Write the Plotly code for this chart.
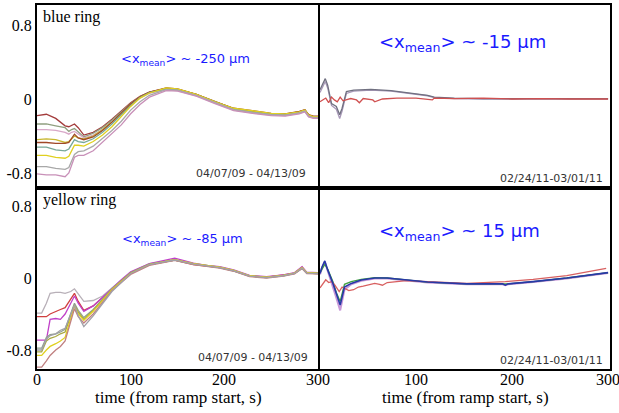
import plotly.graph_objects as go

W, H = 619, 413

# ---------------- data ----------------
# Top-left: blue ring 2009
t_tl = [0, 10, 20, 30, 34, 37, 40, 44, 50, 60, 70, 80, 90, 100, 110, 120, 138, 150, 170, 190, 210, 230, 250, 265, 280, 286, 290, 295, 300]
tl_series = {
    "c1": [-0.18, -0.165, -0.21, -0.29, -0.30, -0.285, -0.27, -0.31, -0.39, -0.36, -0.30, -0.22, -0.13, -0.04, 0.03, 0.075, 0.115, 0.105, 0.05, -0.03, -0.105, -0.135, -0.16, -0.165, -0.14, -0.12, -0.175, -0.19, -0.19],
    "c2": [-0.27, -0.27, -0.29, -0.31, -0.35, -0.33, -0.32, -0.36, -0.41, -0.37, -0.31, -0.23, -0.14, -0.05, 0.025, 0.07, 0.11, 0.10, 0.045, -0.035, -0.11, -0.14, -0.165, -0.17, -0.145, -0.125, -0.18, -0.195, -0.195],
    "c3": [-0.33, -0.33, -0.34, -0.36, -0.38, -0.36, -0.35, -0.38, -0.42, -0.39, -0.33, -0.25, -0.16, -0.07, 0.01, 0.06, 0.10, 0.09, 0.035, -0.045, -0.12, -0.15, -0.175, -0.18, -0.155, -0.135, -0.19, -0.205, -0.205],
    "c4": [-0.44, -0.43, -0.44, -0.47, -0.46, -0.43, -0.40, -0.42, -0.43, -0.40, -0.33, -0.25, -0.15, -0.06, 0.02, 0.07, 0.115, 0.105, 0.05, -0.03, -0.105, -0.135, -0.16, -0.165, -0.14, -0.12, -0.175, -0.19, -0.19],
    "c5": [-0.47, -0.47, -0.48, -0.48, -0.47, -0.42, -0.38, -0.42, -0.44, -0.41, -0.34, -0.25, -0.15, -0.055, 0.025, 0.075, 0.12, 0.11, 0.05, -0.03, -0.10, -0.13, -0.155, -0.16, -0.135, -0.115, -0.17, -0.185, -0.185],
    "c6": [-0.52, -0.52, -0.55, -0.56, -0.54, -0.49, -0.44, -0.46, -0.47, -0.43, -0.36, -0.27, -0.17, -0.07, 0.015, 0.07, 0.11, 0.10, 0.045, -0.035, -0.11, -0.14, -0.165, -0.17, -0.145, -0.125, -0.18, -0.195, -0.195],
    "c7": [-0.61, -0.61, -0.63, -0.64, -0.62, -0.56, -0.50, -0.50, -0.51, -0.46, -0.39, -0.30, -0.19, -0.08, 0.01, 0.065, 0.12, 0.11, 0.05, -0.03, -0.10, -0.13, -0.155, -0.16, -0.14, -0.12, -0.175, -0.19, -0.19],
    "c8": [-0.73, -0.73, -0.75, -0.76, -0.74, -0.67, -0.60, -0.57, -0.56, -0.51, -0.43, -0.34, -0.24, -0.12, -0.03, 0.04, 0.10, 0.095, 0.04, -0.04, -0.115, -0.145, -0.17, -0.175, -0.15, -0.13, -0.185, -0.20, -0.20],
    "c9": [-0.81, -0.82, -0.82, -0.84, -0.80, -0.71, -0.63, -0.61, -0.61, -0.56, -0.47, -0.38, -0.28, -0.16, -0.06, 0.02, 0.09, 0.085, 0.03, -0.05, -0.125, -0.155, -0.18, -0.185, -0.16, -0.14, -0.195, -0.21, -0.21],
}
tl_colors = ["#a33b3b", "#90a080", "#d8a8c8", "#c8b830", "#a04828", "#78a898", "#e0d020", "#a8a8a8", "#c890b8"]

# Bottom-left: yellow ring 2009
t_bl = [0, 5, 10, 14, 20, 25, 30, 36, 40, 44, 50, 60, 70, 80, 90, 100, 120, 147, 167, 181, 195, 210, 227, 245, 263, 275, 283, 288, 300]
bl_series = {
    "d1": [-0.39, -0.39, -0.28, -0.17, -0.16, -0.16, -0.17, -0.15, -0.12, -0.18, -0.26, -0.25, -0.20, -0.11, -0.03, 0.06, 0.16, 0.20, 0.16, 0.14, 0.12, 0.085, 0.025, 0.01, 0.03, 0.055, 0.11, 0.06, 0.055],
    "d2": [-0.43, -0.43, -0.43, -0.40, -0.37, -0.35, -0.33, -0.24, -0.17, -0.26, -0.36, -0.31, -0.22, -0.12, -0.03, 0.06, 0.15, 0.20, 0.15, 0.13, 0.115, 0.08, 0.02, 0.01, 0.03, 0.05, 0.12, 0.055, 0.05],
    "d3": [-0.69, -0.69, -0.69, -0.46, -0.45, -0.46, -0.40, -0.28, -0.20, -0.28, -0.37, -0.31, -0.21, -0.11, -0.02, 0.07, 0.16, 0.22, 0.165, 0.14, 0.125, 0.09, 0.03, 0.015, 0.035, 0.06, 0.125, 0.065, 0.06],
    "d4": [-0.78, -0.78, -0.66, -0.63, -0.62, -0.60, -0.57, -0.40, -0.28, -0.36, -0.44, -0.35, -0.23, -0.12, -0.03, 0.06, 0.155, 0.205, 0.16, 0.14, 0.12, 0.085, 0.025, 0.01, 0.03, 0.055, 0.115, 0.06, 0.055],
    "d5": [-0.82, -0.82, -0.70, -0.67, -0.65, -0.62, -0.60, -0.42, -0.30, -0.38, -0.46, -0.36, -0.24, -0.13, -0.035, 0.055, 0.15, 0.20, 0.155, 0.135, 0.115, 0.08, 0.02, 0.005, 0.025, 0.05, 0.11, 0.055, 0.05],
    "d6": [-0.86, -0.86, -0.80, -0.76, -0.73, -0.70, -0.66, -0.45, -0.31, -0.40, -0.47, -0.37, -0.25, -0.13, -0.04, 0.05, 0.15, 0.205, 0.16, 0.14, 0.12, 0.085, 0.025, 0.01, 0.03, 0.055, 0.115, 0.06, 0.055],
    "d7": [-0.99, -0.99, -0.92, -0.86, -0.80, -0.76, -0.70, -0.50, -0.34, -0.43, -0.50, -0.40, -0.27, -0.14, -0.05, 0.04, 0.14, 0.195, 0.15, 0.13, 0.11, 0.075, 0.015, 0.0, 0.02, 0.045, 0.105, 0.05, 0.045],
    "d8": [-0.80, -0.80, -0.68, -0.64, -0.62, -0.58, -0.56, -0.40, -0.30, -0.42, -0.54, -0.42, -0.28, -0.15, -0.05, 0.05, 0.15, 0.20, 0.155, 0.135, 0.115, 0.08, 0.02, 0.005, 0.025, 0.05, 0.11, 0.055, 0.05],
}
bl_colors = ["#b8b0b8", "#d04040", "#c040c8", "#90a090", "#a8a840", "#e0d020", "#c08080", "#a0a0a8"]

# Top-right: blue ring 2011
t_tr = [0, 2, 5.5, 8, 12, 17, 20.5, 23, 27.5, 35, 53, 74, 95, 112, 119, 140, 170, 200, 230, 260, 300]
tr_gray1 = [0.10, 0.15, 0.22, 0.15, -0.05, -0.08, -0.17, -0.10, 0.08, 0.095, 0.105, 0.09, 0.06, 0.04, 0.02, 0.01, 0.005, 0.005, 0.005, 0.005, 0.005]
tr_gray2 = [0.07, 0.12, 0.19, 0.12, -0.07, -0.11, -0.21, -0.13, 0.06, 0.085, 0.095, 0.085, 0.055, 0.035, 0.015, 0.005, 0.0, 0.0, 0.0, 0.0, 0.0]
t_tr_red = [0, 3, 6, 9, 12, 15, 18, 21, 24, 27, 32, 38, 41, 45, 55, 57, 65, 80, 100, 117, 119, 140, 170, 200, 230, 260, 300]
tr_red = [-0.03, -0.01, 0.01, -0.04, 0.02, -0.01, -0.03, 0.02, -0.02, -0.01, 0.005, -0.01, -0.04, 0.005, -0.01, -0.03, 0.0, 0.01, 0.01, -0.01, 0.01, 0.005, 0.01, 0.0, 0.005, 0.0, 0.0]

# Bottom-right: yellow ring 2011
t_br = [0, 2, 5, 8, 13.5, 17, 21, 25.5, 32.5, 43, 57, 70, 88, 112, 153, 177, 190, 193, 196, 222, 257, 300]
br_pink = [0.04, 0.11, 0.18, 0.08, -0.08, -0.22, -0.36, -0.13, -0.07, -0.03, -0.005, -0.005, -0.025, -0.05, -0.07, -0.07, -0.07, -0.08, -0.07, -0.045, -0.005, 0.055]
br_green = [0.06, 0.10, 0.15, 0.10, -0.04, -0.16, -0.26, -0.07, -0.04, -0.015, 0.005, 0.0, -0.02, -0.045, -0.065, -0.065, -0.065, -0.07, -0.065, -0.04, 0.0, 0.06]
br_blue = [0.05, 0.12, 0.19, 0.09, -0.06, -0.18, -0.30, -0.10, -0.06, -0.022, 0.0, 0.0, -0.022, -0.045, -0.065, -0.067, -0.065, -0.08, -0.065, -0.04, 0.0, 0.06]
t_br_red = [0, 3, 6, 9, 12, 15, 18, 20, 23, 26, 30, 35, 40, 45, 50, 57, 62, 65, 70, 80, 90, 112, 153, 193, 222, 257, 298]
br_red = [-0.11, -0.06, -0.02, -0.05, -0.04, -0.07, -0.12, -0.15, -0.10, -0.12, -0.14, -0.13, -0.10, -0.09, -0.08, -0.06, -0.07, -0.08, -0.05, -0.04, -0.03, -0.04, -0.06, -0.04, -0.015, 0.026, 0.107]

x_ticks = [0, 100, 200, 300]
y_ticks = [-0.8, 0, 0.8]
y_ticktext = ["-0.8", "0", "0.8"]

# ---------------- figure ----------------
fig = go.Figure()

def add(x, y, color, xa, ya, width=1.3):
    fig.add_trace(go.Scatter(x=x, y=y, mode="lines", line=dict(color=color, width=width),
                             xaxis=xa, yaxis=ya, showlegend=False, hoverinfo="skip"))

for (k, v), c in zip(tl_series.items(), tl_colors):
    add(t_tl, v, c, "x", "y")
for (k, v), c in zip(bl_series.items(), bl_colors):
    add(t_bl, v, c, "x3", "y3")
add(t_tr, tr_gray2, "#a898b8", "x2", "y2")
add(t_tr, tr_gray1, "#707080", "x2", "y2")
add(t_tr_red, tr_red, "#d05050", "x2", "y2")
add(t_br, br_pink, "#c898d8", "x4", "y4", 2)
add(t_br, br_green, "#40a040", "x4", "y4")
add(t_br_red, br_red, "#d86060", "x4", "y4")
add(t_br, br_blue, "#2838a8", "x4", "y4", 1.6)

def px_x(x):
    return x / W

def px_y(y):
    return 1 - y / H

left_dom = [px_x(37), px_x(318)]
right_dom = [px_x(320), px_x(610)]
top_dom = [px_y(188), px_y(5)]
bot_dom = [px_y(369), px_y(188)]

serif = "Liberation Serif, Times New Roman, serif"
axis_common = dict(showline=True, linewidth=2, linecolor="black", mirror=True,
                   showgrid=False, zeroline=False, ticks="")

fig.update_layout(
    width=W, height=H, margin=dict(l=0, r=0, t=0, b=0),
    paper_bgcolor="white", plot_bgcolor="white",
    xaxis=dict(domain=left_dom, range=[0, 300], anchor="y", showticklabels=False, **axis_common),
    yaxis=dict(domain=top_dom, range=[-0.962, 1.016], anchor="x", tickvals=y_ticks, ticktext=y_ticktext,
               tickfont=dict(family=serif, size=16, color="black"), **axis_common),
    xaxis2=dict(domain=right_dom, range=[0, 302], anchor="y2", showticklabels=False, **axis_common),
    yaxis2=dict(domain=top_dom, range=[-0.962, 1.016], anchor="x2", showticklabels=False, **axis_common),
    xaxis3=dict(domain=left_dom, range=[0, 300], anchor="y3", showticklabels=False, tickvals=x_ticks, **axis_common),
    yaxis3=dict(domain=bot_dom, range=[-1.011, 1.0], anchor="x3", tickvals=y_ticks, ticktext=y_ticktext,
                tickfont=dict(family=serif, size=16, color="black"), **axis_common),
    xaxis4=dict(domain=right_dom, range=[0, 302], anchor="y4", showticklabels=False, tickvals=x_ticks, **axis_common),
    yaxis4=dict(domain=bot_dom, range=[-1.011, 1.0], anchor="x4", showticklabels=False, **axis_common),
)

def note(text, x, y, size, color="black", family=serif, xanchor="center"):
    fig.add_annotation(text=text, x=px_x(x), y=px_y(y), xref="paper", yref="paper",
                       showarrow=False, xanchor=xanchor, yanchor="middle",
                       font=dict(family=family, size=size, color=color))

# x tick labels placed on the data axes, just under the frame
for xa, vals in (("x3", x_ticks), ("x4", x_ticks[1:])):
    for v in vals:
        fig.add_annotation(text=str(v), x=v, xref=xa, y=px_y(379), yref="paper",
                           showarrow=False, xanchor="center", yanchor="middle",
                           font=dict(family=serif, size=16, color="black"))

sans = "DejaVu Sans, Verdana, sans-serif"
blue = "#1a1aff"
note("blue ring", 41, 17, 16, xanchor="left")
note("yellow ring", 41, 200, 16, xanchor="left")
note("&lt;x<sub>mean</sub>&gt; ~ -250 μm", 185, 60, 13, blue, sans)
note("&lt;x<sub>mean</sub>&gt; ~ -15 μm", 462, 43, 18, blue, sans)
note("&lt;x<sub>mean</sub>&gt; ~ -85 μm", 182, 240, 13, blue, sans)
note("&lt;x<sub>mean</sub>&gt; ~ 15 μm", 460, 232, 18, blue, sans)
note("04/07/09 - 04/13/09", 308, 174, 11, "#333333", sans, xanchor="right")
note("04/07/09 - 04/13/09", 310, 357, 11, "#333333", sans, xanchor="right")
note("02/24/11-03/01/11", 605, 178, 11, "#333333", sans, xanchor="right")
note("02/24/11-03/01/11", 605, 360, 11, "#333333", sans, xanchor="right")
note("time (from ramp start, s)", 178, 397, 17)
note("time (from ramp start, s)", 465, 397, 17)

fig.write_html("out.html")
